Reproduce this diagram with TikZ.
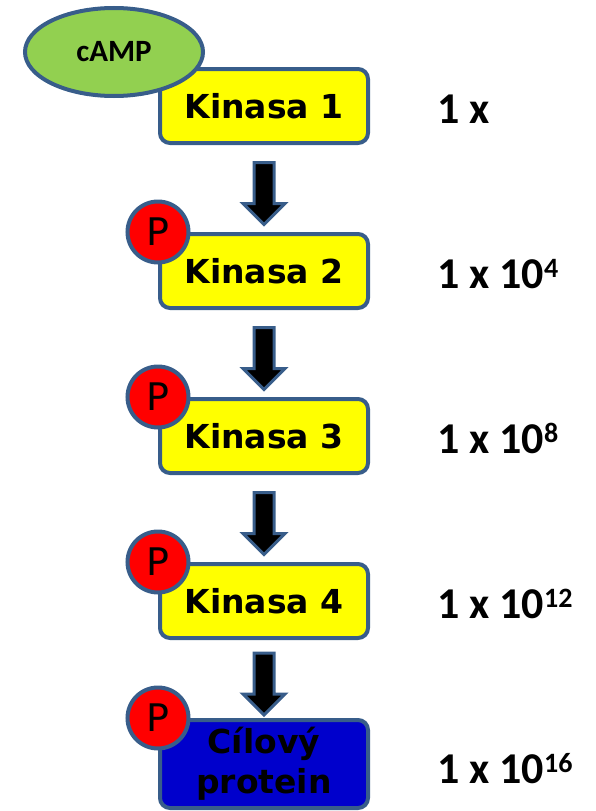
\documentclass[tikz,border=0pt]{standalone}
\usepackage{fontspec}
\setmainfont{Carlito}
\newfontfamily\boxfont{DejaVu Sans}
\usepackage{xcolor}
\usepackage{tikz}
\usetikzlibrary{shapes.geometric}
\usetikzlibrary{shapes.arrows}
\usetikzlibrary{calc}
\definecolor{edgeblue}{RGB}{56,93,138}
\definecolor{kinyellow}{RGB}{255,255,0}
\definecolor{campgreen}{RGB}{146,208,80}
\definecolor{protblue}{RGB}{0,0,204}
\newcommand{\expo}[1]{\raisebox{11pt}{\fontsize{28}{30}\selectfont #1}}
\tikzset{
    boxnode/.style = {align=center, inner sep=0pt, text centered, rounded corners=10pt, draw=edgeblue, line width=4pt, minimum width=208pt, minimum height=74pt, font=\boxfont\bfseries\fontsize{33}{40}\selectfont},
    kin_node/.style = {boxnode, fill=kinyellow},
    target_node/.style = {boxnode, fill=protblue, minimum height=88pt},
    p_node/.style = {circle, draw=edgeblue, line width=4pt, fill=red, minimum size=61pt, inner sep=0pt, font=\boxfont\fontsize{38}{40}\selectfont},
    camp_node/.style = {ellipse, draw=edgeblue, line width=4pt, fill=campgreen, minimum width=178pt, minimum height=88pt, inner sep=0pt, font=\bfseries\fontsize{31}{34}\selectfont},
    count_node/.style = {anchor=base west, inner sep=0pt, font=\bfseries\fontsize{44}{50}\selectfont},
    down_arrow/.style = {single arrow, draw=edgeblue, fill=black, line width=3pt, rotate=-90, minimum height=62pt, inner xsep=0pt, inner ysep=8.5pt, single arrow head extend=11pt, single arrow head indent=0pt}
}

\begin{document}
\begin{tikzpicture}[x=1pt, y=1pt]
    \useasboundingbox (0,0) rectangle (596,-811);
    % cascade boxes
    \node [kin_node] (k1) at (264,-106) {Kinasa 1};
    \node [kin_node] (k2) at (264,-271) {Kinasa 2};
    \node [kin_node] (k3) at (264,-436) {Kinasa 3};
    \node [kin_node] (k4) at (264,-601) {Kinasa 4};
    \node [target_node] (tp) at (264,-764) {Cílový\\protein};
    % block arrows between the boxes
    \node [down_arrow] (a1) at ($(k1.south)!0.5!(k2.north)$) {};
    \node [down_arrow] (a2) at ($(k2.south)!0.5!(k3.north)$) {};
    \node [down_arrow] (a3) at ($(k3.south)!0.5!(k4.north)$) {};
    \node [down_arrow] (a4) at ($(k4.south)!0.5!(tp.north)$) {};
    % activator and phosphate groups
    \node [camp_node] (camp) at ($(k1.north west)+(-44,15)$) {cAMP};
    \node [p_node] (p2) at (k2.north west) {P};
    \node [p_node] (p3) at (k3.north west) {P};
    \node [p_node] (p4) at (k4.north west) {P};
    \node [p_node] (p5) at (tp.north west) {P};
    % amplification
    \node [count_node] (c1) at (437,-123) {1 x};
    \node [count_node] (c2) at (437,-288) {1 x 10\expo{4}};
    \node [count_node] (c3) at (437,-453) {1 x 10\expo{8}};
    \node [count_node] (c4) at (437,-618) {1 x 10\expo{12}};
    \node [count_node] (c5) at (437,-783) {1 x 10\expo{16}};
\end{tikzpicture}
\end{document}
